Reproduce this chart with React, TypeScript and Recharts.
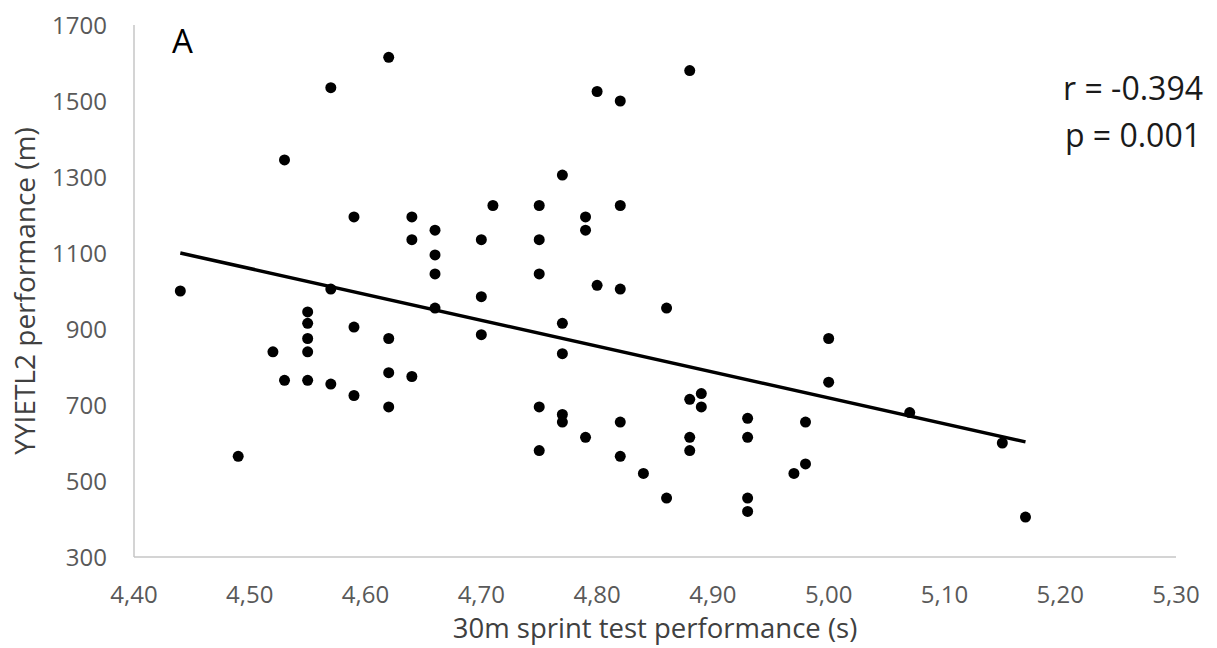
import { ReferenceLine, Scatter, ScatterChart, XAxis, YAxis } from "recharts";

// 30m sprint time (s) vs YYIETL2 distance (m), one entry per player
const sprintTimes = [
  4.44, 4.49, 4.52, 4.53, 4.53, 4.55, 4.55, 4.55, 4.55, 4.55, 4.57, 4.57, 4.57,
  4.59, 4.59, 4.59, 4.62, 4.62, 4.62, 4.62, 4.64, 4.64, 4.64, 4.66, 4.66, 4.66,
  4.66, 4.7, 4.7, 4.7, 4.71, 4.75, 4.75, 4.75, 4.75, 4.75, 4.77, 4.77, 4.77,
  4.77, 4.77, 4.79, 4.79, 4.79, 4.8, 4.8, 4.82, 4.82, 4.82, 4.82, 4.82, 4.84,
  4.86, 4.86, 4.88, 4.88, 4.88, 4.88, 4.89, 4.89, 4.93, 4.93, 4.93, 4.93, 4.97,
  4.98, 4.98, 5.0, 5.0, 5.07, 5.15, 5.17,
];
const yyietl2Distances = [
  1000, 565, 840, 1345, 765, 945, 915, 875, 840, 765, 1535, 1005, 755, 1195,
  905, 725, 1615, 875, 785, 695, 1195, 1135, 775, 1160, 1095, 1045, 955, 1135,
  985, 885, 1225, 1225, 1135, 1045, 695, 580, 1305, 915, 835, 675, 655, 1195,
  1160, 615, 1525, 1015, 1500, 1225, 1005, 655, 565, 520, 955, 455, 1580, 715,
  615, 580, 730, 695, 665, 615, 455, 420, 520, 655, 545, 875, 760, 680, 600,
  405,
];

// fitted regression line end points
const trendX = [4.44, 5.17];
const trendY = [1100, 603];

const xTicks = [4.4, 4.5, 4.6, 4.7, 4.8, 4.9, 5.0, 5.1, 5.2, 5.3];
const yTicks = [300, 500, 700, 900, 1100, 1300, 1500, 1700];

const points = sprintTimes.map((x, i) => ({ x, y: yyietl2Distances[i] }));

const font = "'Open Sans', sans-serif";
const tickStyle = { fill: "#595959", fontSize: 24, fontFamily: font };

const Dot = (props: any) => (
  <circle cx={props.cx} cy={props.cy} r={5.5} fill="#000" />
);

export default function App() {
  return (
    <div
      style={{
        position: "absolute",
        left: 0,
        top: 0,
        width: 1217,
        height: 648,
        background: "#fff",
      }}
    >
      <ScatterChart
        width={1217}
        height={648}
        margin={{ top: 25, right: 41, bottom: 0, left: 0 }}
        style={{ fontFamily: font }}
      >
        <XAxis
          type="number"
          dataKey="x"
          domain={[4.4, 5.3]}
          ticks={xTicks}
          tickFormatter={(v: number) => v.toFixed(2).replace(".", ",")}
          height={91}
          tick={tickStyle}
          tickLine={false}
          tickSize={0}
          tickMargin={29}
          axisLine={{ stroke: "#c6c6c6", strokeWidth: 1.5 }}
          interval={0}
        />
        <YAxis
          type="number"
          dataKey="y"
          domain={[300, 1700]}
          ticks={yTicks}
          width={134}
          tick={tickStyle}
          tickLine={false}
          tickSize={0}
          tickMargin={27}
          axisLine={{ stroke: "#c6c6c6", strokeWidth: 1.5 }}
          interval={0}
        />
        <Scatter
          data={points}
          shape={Dot}
          isAnimationActive={false}
        />
        <ReferenceLine
          segment={[
            { x: trendX[0], y: trendY[0] },
            { x: trendX[1], y: trendY[1] },
          ]}
          stroke="#000"
          strokeWidth={3.5}
        />
        <text x={172} y={53} fontSize={33} fill="#000" fontFamily={font}>
          A
        </text>
        <text
          x={1203}
          y={100}
          fontSize={32}
          fill="#1a1a1a"
          textAnchor="end"
          fontFamily={font}
        >
          r = -0.394
        </text>
        <text
          x={1201}
          y={147}
          fontSize={32}
          fill="#1a1a1a"
          textAnchor="end"
          fontFamily={font}
        >
          p = 0.001
        </text>
        <text
          x={655}
          y={638}
          fontSize={27.5}
          fill="#404040"
          textAnchor="middle"
          fontFamily={font}
        >
          30m sprint test performance (s)
        </text>
        <text
          x={35}
          y={291}
          fontSize={28}
          fill="#404040"
          textAnchor="middle"
          fontFamily={font}
          transform="rotate(-90, 35, 291)"
        >
          YYIETL2 performance (m)
        </text>
      </ScatterChart>
    </div>
  );
}
